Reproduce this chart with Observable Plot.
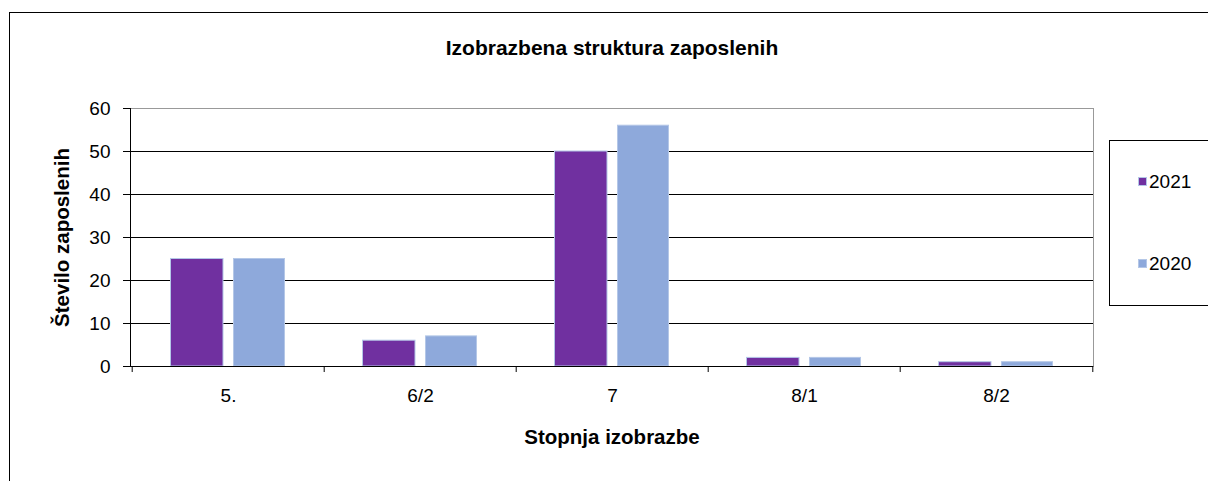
<!DOCTYPE html>
<html>
<head>
<meta charset="utf-8">
<script src="https://cdn.jsdelivr.net/npm/d3@7"></script>
<script src="https://cdn.jsdelivr.net/npm/@observablehq/plot@0.6"></script>
<style>
  html, body { margin: 0; padding: 0; background: #fff; }
  body { width: 1208px; height: 481px; position: relative; overflow: hidden; font-family: "Liberation Sans", Arial, sans-serif; }
  #chart { position: absolute; left: 0; top: 0; }
  #outer { position: absolute; left: 9px; top: 12px; width: 1400px; height: 700px; border: 1px solid #000; pointer-events: none; }
  #legend { position: absolute; left: 1109px; top: 140px; width: 200px; height: 164px; border: 1px solid #000; background: #fff; }
  .item { position: absolute; left: 28px; font-size: 19px; color: #000; line-height: 20px; height: 20px; }
  .sw { display: inline-block; width: 7px; height: 7px; margin-right: 2px; vertical-align: 2px; border: 0.5px solid #b4c7e7; }
</style>
</head>
<body>
<div id="chart"></div>
<div id="outer"></div>
<div id="legend"></div>
<script>
const categories = ["5.", "6/2", "7", "8/1", "8/2"];
const series = ["2021", "2020"];
const values2021 = [25, 6, 50, 2, 1];
const values2020 = [25, 7, 56, 2, 1];
const yTicks = [0, 10, 20, 30, 40, 50, 60];
const colors = {"2021": "#7030A0", "2020": "#8EA9DB"};
const title = "Izobrazbena struktura zaposlenih";
const xTitle = "Stopnja izobrazbe";
const yTitle = "Število zaposlenih";

const rows2021 = categories.map((c, i) => ({cat: c, year: "2021", value: values2021[i]}));
const rows2020 = categories.map((c, i) => ({cat: c, year: "2020", value: values2020[i]}));

const W = 1208, H = 481;
const mL = 130, mR = 115, mT = 108, mB = 115;
const band = (W - mL - mR) / categories.length;
const font = "'Liberation Sans', Arial, sans-serif";

const chart = Plot.plot({
  width: W,
  height: H,
  marginLeft: mL,
  marginRight: mR,
  marginTop: mT,
  marginBottom: mB,
  style: {fontFamily: font, color: "#000", background: "transparent"},
  x: {type: "band", domain: categories, padding: 0, label: null},
  y: {domain: [0, 60], label: null},
  marks: [
    Plot.ruleY(yTicks.filter(t => t > 0 && t < 60), {stroke: "#000", strokeWidth: 1}),
    Plot.ruleY([60], {stroke: "#999", strokeWidth: 1}),
    Plot.frame({anchor: "right", stroke: "#999"}),
    Plot.barY(rows2021, {x: "cat", y: "value", fill: colors["2021"], stroke: "#b4c7e7", strokeWidth: 1, insetLeft: 38.5, insetRight: 101}),
    Plot.barY(rows2020, {x: "cat", y: "value", fill: colors["2020"], stroke: "#b4c7e7", strokeWidth: 1, insetLeft: 101.5, insetRight: 39.5}),
    Plot.ruleY([0], {stroke: "#000", strokeWidth: 1}),
    Plot.frame({anchor: "left", stroke: "#000"}),
    Plot.ruleX(categories, {x: d => d, y1: 0, y2: -1.4, stroke: "#000", dx: -band / 2}),
    Plot.ruleX(categories.slice(-1), {x: d => d, y1: 0, y2: -1.4, stroke: "#000", dx: band / 2}),
    Plot.axisY({ticks: yTicks, tickSize: 7, tickPadding: 13, fontSize: 19, label: null, stroke: "#000"}),
    Plot.axisX({tickSize: 0, tickPadding: 22, fontSize: 19, label: null}),
    Plot.text([yTitle], {frameAnchor: "left", rotate: -90, dx: -68, fontWeight: "bold", fontSize: 20.5, lineAnchor: "middle", textAnchor: "middle", fill: "#000"}),
    Plot.text([xTitle], {frameAnchor: "bottom", dy: 71, fontWeight: "bold", fontSize: 20.5, lineAnchor: "middle", fill: "#000"}),
    Plot.text([title], {frameAnchor: "top", dy: -60, fontWeight: "bold", fontSize: 21, lineAnchor: "middle", fill: "#000"})
  ]
});
document.getElementById("chart").appendChild(chart);

const legend = document.getElementById("legend");
const legendTops = [31, 113];
series.forEach((s, i) => {
  const item = document.createElement("div");
  item.className = "item";
  item.style.top = legendTops[i] + "px";
  const sw = document.createElement("span");
  sw.className = "sw";
  sw.style.background = colors[s];
  item.appendChild(sw);
  item.appendChild(document.createTextNode(s));
  legend.appendChild(item);
});
</script>
</body>
</html>
